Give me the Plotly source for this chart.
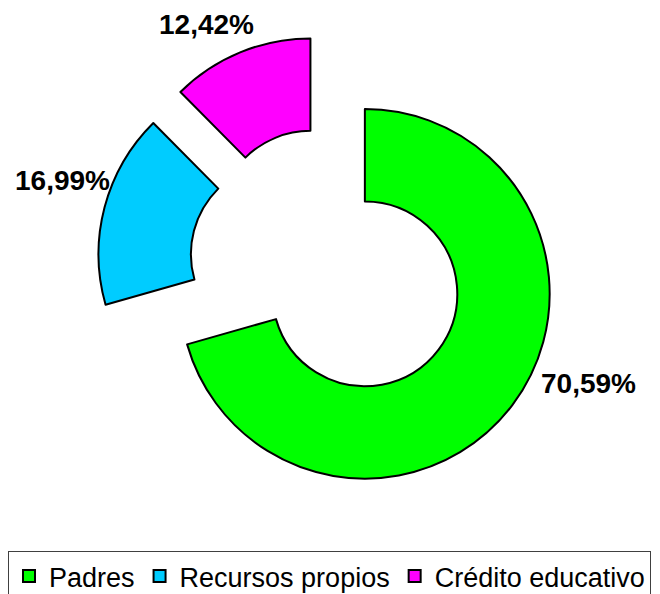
import math
import plotly.graph_objects as go

categories = ["Padres", "Recursos propios", "Crédito educativo"]
values = [70.59, 16.99, 12.42]
colors = ["#00FF00", "#00CCFF", "#FF00FF"]

W, H = 660, 594

# pie layout (pixels)
PULL = 0.25
HOLE = 0.5
DOM_X = [89, 551]
DOM_Y = [27, 489]
# rendered pie centre / radius (plotly recentres the pulled pie in its box)
CX, CY, R = 328, 265, 185
# label offsets (px) from each slice's outer mid-edge point
LABEL_SHIFT = [(68, -29), (-50, -34), (-42, -35)]

fig = go.Figure(go.Pie(
    labels=categories,
    values=values,
    sort=False,
    direction="clockwise",
    rotation=0,
    hole=HOLE,
    pull=[PULL] * len(values),
    marker=dict(colors=colors, line=dict(color="black", width=2)),
    textinfo="none",
    domain=dict(x=[DOM_X[0] / W, DOM_X[1] / W], y=[(H - DOM_Y[1]) / H, (H - DOM_Y[0]) / H]),
))

# data labels placed relative to each slice's outer mid-edge
total = sum(values)
start = 0.0
annotations = []
for v, (dx, dy) in zip(values, LABEL_SHIFT):
    span = v / total * 360
    mid = math.radians(start + span / 2)
    ux, uy = math.sin(mid), -math.cos(mid)
    px = CX + ux * (PULL * R + R) + dx
    py = CY + uy * (PULL * R + R) + dy
    annotations.append(dict(
        x=px / W, y=1 - py / H, xref="paper", yref="paper",
        text=f"{v:.2f}%".replace(".", ","), showarrow=False,
        xanchor="center", yanchor="middle",
        font=dict(family="Liberation Sans, Arial", size=28, color="black", weight="bold"),
    ))
    start += span

fig.update_layout(
    width=W, height=H,
    margin=dict(l=0, r=0, t=0, b=0, autoexpand=False),
    paper_bgcolor="white",
    plot_bgcolor="white",
    font=dict(family="Liberation Sans, Arial", color="black"),
    showlegend=True,
    annotations=annotations,
    legend=dict(
        orientation="h",
        x=0, y=0, xanchor="left", yanchor="bottom",
        font=dict(family="Liberation Sans, Arial", size=27, color="black"),
        bordercolor="#404040", borderwidth=1,
        itemwidth=30,
        traceorder="normal",
    ),
)

fig.write_html("out.html")
